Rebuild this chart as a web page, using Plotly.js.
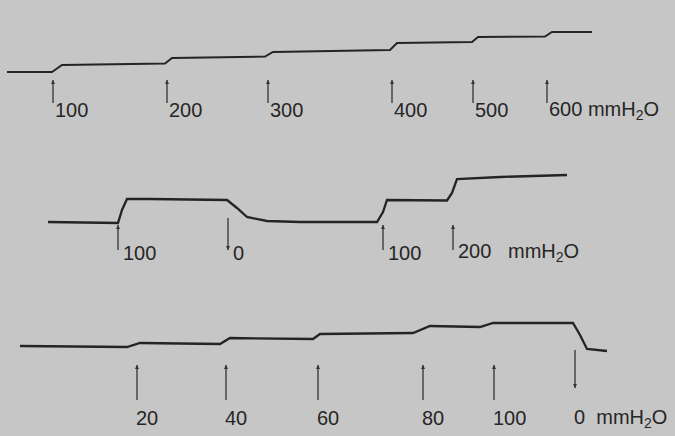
<!DOCTYPE html>
<html>
<head>
<meta charset="utf-8">
<script src="https://cdn.plot.ly/plotly-3.0.1.min.js"></script>
<style>html,body{margin:0;padding:0;background:#c6c6c6;}#chart{width:675px;height:436px;}</style>
</head>
<body>
<div id="chart"></div>
<script>
// ---- Data (time along recording, deflection of the trace) ----
// Record 1: stepwise pressure increases 100 .. 600 mmH2O
const t1 = [7, 52, 62, 165, 172, 265, 273, 390, 397, 472, 478, 545, 552, 592];
const d1 = [0, 0, 7, 8.5, 14, 15.5, 20, 22, 29, 30, 35, 35.5, 40, 40];
const marks1 = [53, 167, 268, 392, 473, 547];
const labels1 = ['100', '200', '300', '400', '500', '600\u00a0mmH<sub>2</sub>O'];

// Record 2: 100 -> 0 -> 100 -> 200 mmH2O
const t2 = [48, 118, 122, 127, 150, 200, 227, 237, 247, 267, 300, 377, 383, 387, 447, 452, 457, 500, 567];
const d2 = [0, -1, 12, 23, 23, 22.5, 22, 14, 5, 1, 0, 0, 10, 22, 21.5, 29, 43, 45, 47];
const marks2 = [118, 228, 383, 453];
const labels2 = ['100', '0', '100', '200\u00a0\u00a0\u00a0mmH<sub>2</sub>O'];
const dir2 = ['up', 'down', 'up', 'up'];

// Record 3: 20 .. 100 mmH2O then 0
const t3 = [20, 127, 140, 220, 230, 313, 320, 413, 430, 480, 493, 573, 580, 587, 607];
const d3 = [1, 0, 4, 3, 9, 8, 13, 14, 21, 20, 24, 24, 12, -2, -4];
const marks3 = [137, 226, 318, 423, 494, 575];
const labels3 = ['20', '40', '60', '80', '100', '0\u00a0\u00a0mmH<sub>2</sub>O'];
const dir3 = ['up', 'up', 'up', 'up', 'up', 'down'];

// ---- Styling ----
const ink = '#242424';
const arrowInk = '#333333';
const font = {family: 'Liberation Sans, Arial, sans-serif', size: 20, color: '#262626'};

const traces = [
  {x: t1, y: d1, xaxis: 'x', yaxis: 'y', mode: 'lines', line: {color: ink, width: 2}, hoverinfo: 'skip'},
  {x: t2, y: d2, xaxis: 'x', yaxis: 'y2', mode: 'lines', line: {color: ink, width: 2.3}, hoverinfo: 'skip'},
  {x: t3, y: d3, xaxis: 'x', yaxis: 'y3', mode: 'lines', line: {color: ink, width: 2.3}, hoverinfo: 'skip'}
];

// arrows as line segments + arrow markers at the head
function arrowTraces(marks, dirs, yaxis, upHead, upTail, downTail, downHead) {
  const lx = [], ly = [], hx = [], hy = [], hs = [];
  marks.forEach((m, i) => {
    const down = dirs && dirs[i] === 'down';
    const head = down ? downHead : upHead;
    const tail = down ? downTail : upTail;
    lx.push(m, m, null); ly.push(head, tail, null);
    hx.push(m); hy.push(head); hs.push(down ? 'arrow-down' : 'arrow-up');
  });
  traces.push({x: lx, y: ly, xaxis: 'x', yaxis: yaxis, mode: 'lines',
    line: {color: arrowInk, width: 1.3}, hoverinfo: 'skip'});
  traces.push({x: hx, y: hy, xaxis: 'x', yaxis: yaxis, mode: 'markers',
    marker: {symbol: hs, size: 4, color: arrowInk, line: {width: 0}}, hoverinfo: 'skip'});
}
arrowTraces(marks1, null, 'y', -8, -31, 0, 0);
arrowTraces(marks2, dir2, 'y2', -3, -28, 4, -28);
arrowTraces(marks3, dir3, 'y3', -18, -53, -3, -41);

const ann = [];
function label(x, yref, y, txt, shift) {
  ann.push({x: x, y: y, xref: 'x', yref: yref, text: txt, showarrow: false,
    xanchor: 'left', yanchor: 'middle', xshift: shift, font: font});
}
marks1.forEach((m, i) => label(m, 'y', -38, labels1[i], 0));
marks2.forEach((m, i) => label(m, 'y2', -31, labels2[i], 3));
marks3.forEach((m, i) => label(m, 'y3', -71, labels3[i], -3));

const hidden = {visible: false, showgrid: false, zeroline: false, fixedrange: true};
const layout = {
  width: 675, height: 436,
  margin: {l: 0, r: 0, t: 0, b: 0},
  paper_bgcolor: '#c6c6c6', plot_bgcolor: '#c6c6c6',
  showlegend: false,
  xaxis: Object.assign({range: [0, 675], domain: [0, 1]}, hidden),
  yaxis: Object.assign({range: [-73, 72], domain: [1 - 145 / 436, 1]}, hidden),
  yaxis2: Object.assign({range: [-68, 77], domain: [1 - 290 / 436, 1 - 145 / 436]}, hidden),
  yaxis3: Object.assign({range: [-89, 57], domain: [0, 1 - 290 / 436]}, hidden),
  annotations: ann
};
Plotly.newPlot('chart', traces, layout, {staticPlot: true, displayModeBar: false});
</script>
</body>
</html>
